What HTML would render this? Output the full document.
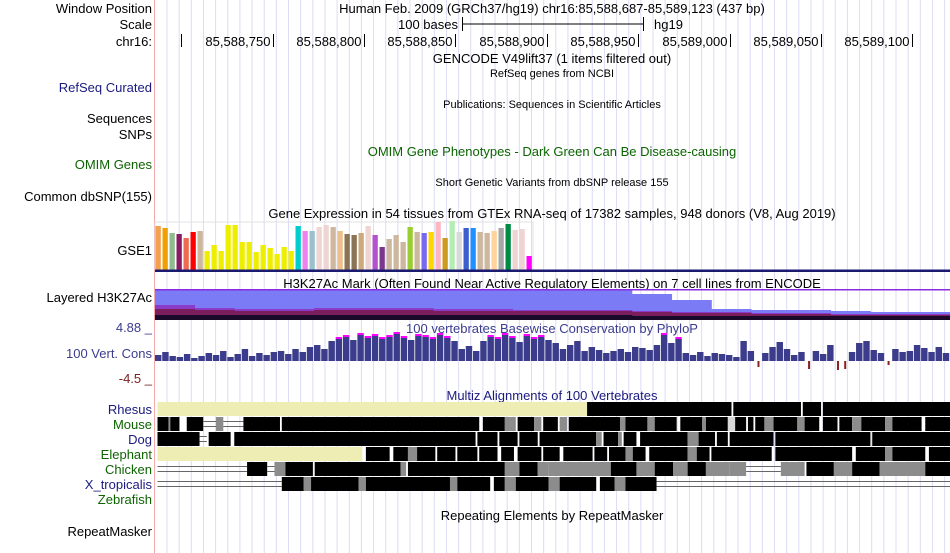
<!DOCTYPE html>
<html><head><meta charset="utf-8"><style>
html,body{margin:0;padding:0;background:#fff;}
svg{display:block;font-family:"Liberation Sans",sans-serif;}
</style></head><body>
<svg id="c" width="950" height="553" viewBox="0 0 950 553" xmlns="http://www.w3.org/2000/svg">
<g id="grid"></g>
<line x1="154.5" y1="0" x2="154.5" y2="553" stroke="#f4aaaa"/>
<g font-size="13" text-anchor="end" fill="#000">
<text x="152" y="13">Window Position</text>
<text x="152" y="29">Scale</text>
<text x="152" y="46">chr16:</text>
<text x="152" y="92" fill="#1a1a80">RefSeq Curated</text>
<text x="152" y="123">Sequences</text>
<text x="152" y="139">SNPs</text>
<text x="152" y="169" fill="#0c6400">OMIM Genes</text>
<text x="152" y="201">Common dbSNP(155)</text>
<text x="152" y="255">GSE1</text>
<text x="152" y="302">Layered H3K27Ac</text>
<text x="152" y="332" fill="#3c3c90">4.88 _</text>
<text x="152" y="358" fill="#3c3c90">100 Vert. Cons</text>
<text x="152" y="383" fill="#7a2020">-4.5 _</text>
<text x="152" y="414" fill="#1a1a80">Rhesus</text>
<text x="152" y="429" fill="#0c6400">Mouse</text>
<text x="152" y="444" fill="#1a1a80">Dog</text>
<text x="152" y="459" fill="#0c6400">Elephant</text>
<text x="152" y="474" fill="#0c6400">Chicken</text>
<text x="152" y="489" fill="#1a1a80">X_tropicalis</text>
<text x="152" y="504" fill="#0c6400">Zebrafish</text>
<text x="152" y="536">RepeatMasker</text>
</g>
<g font-size="13" text-anchor="middle">
<text x="552" y="13">Human Feb. 2009 (GRCh37/hg19)   chr16:85,588,687-85,589,123 (437 bp)</text>
<text x="458" y="29" text-anchor="end">100 bases</text>
<line x1="462" y1="24" x2="644" y2="24" stroke="#000"/>
<line x1="462.5" y1="17" x2="462.5" y2="31" stroke="#000"/><line x1="643.5" y1="17" x2="643.5" y2="31" stroke="#000"/>
<text x="654" y="29" text-anchor="start">hg19</text>
<text x="552" y="63">GENCODE V49lift37 (1 items filtered out)</text>
<text x="552" y="77" font-size="11">RefSeq genes from NCBI</text>
<text x="552" y="108" font-size="11">Publications: Sequences in Scientific Articles</text>
<text x="552" y="156" fill="#0c6400">OMIM Gene Phenotypes - Dark Green Can Be Disease-causing</text>
<text x="552" y="186" font-size="11">Short Genetic Variants from dbSNP release 155</text>
<text x="552" y="218">Gene Expression in 54 tissues from GTEx RNA-seq of 17382 samples, 948 donors (V8, Aug 2019)</text>
<text x="552" y="288">H3K27Ac Mark (Often Found Near Active Regulatory Elements) on 7 cell lines from ENCODE</text>
<text x="552" y="333" fill="#3c3c90">100 vertebrates Basewise Conservation by PhyloP</text>
<text x="552" y="400" fill="#1a1a80">Multiz Alignments of 100 Vertebrates</text>
<text x="552" y="520">Repeating Elements by RepeatMasker</text>
</g>
<g id="ticks"></g>
<rect x="155" y="222" width="378" height="48" fill="none" stroke="#e0e0e0"/>
<g id="gtex"></g>
<rect x="155" y="269.5" width="795" height="2.5" fill="#1a1a70"/>
<g id="h3k"></g>
<g id="cons"></g>
<g id="multiz"></g>
</svg>
<script>
// ---------- data ----------
const rulerTicks = [85588700,85588750,85588800,85588850,85588900,85588950,85589000,85589050,85589100];
const rulerStart = 85588687;
const gtexValues = [44,42,37,36,32,38,39,19,25,19,45,45,28,28,18,25,22,16,23,19,44,39,39,43,45,43,39,36,35,37,44,35,23,31,35,28,43,38,37,38,48,32,49,38,42,42,38,37,39,42,46,40,41,14];
const gtexColors = ["#f5a04f","#f0a000","#8fbc8f","#8b1c62","#ee6a50","#ff0000","#cdb79e","#eeee00","#eeee00","#eeee00","#eeee00","#eeee00","#eeee00","#eeee00","#eeee00","#eeee00","#eeee00","#eeee00","#eeee00","#eeee00","#00cdcd","#ee82ee","#9ac0cd","#eed5d2","#eed5d2","#cdb79e","#edbf8c","#8b7355","#8b7355","#cdaa7d","#eed5d2","#b452cd","#7a378b","#cdb79e","#cdb79e","#cdb79e","#9acd32","#cdb79e","#7a67ee","#ffd700","#ffb6c1","#cd9b1d","#b4eeb4","#d9d9d9","#3a5fcd","#1e90ff","#cdb79e","#cdb79e","#ffd39b","#a6a6a6","#008b45","#eed5d2","#eed5d2","#ff00ff"];
const h3kBlue   = [30,30,30,30,30,30,30,30,30,30,30,30,26,20,11,10,10,9,8,8];
const h3kPurple = [15,12,11,11,12,12,12,11,11,10,10,10,9,8,8,7,7,6,6,6];
const h3kMaroon = [11,10,9,9,10,10,10,9,9,9,9,9,8,7,7,6,6,5,5,5];
const h3kDark   = [5,5,5,5,5,5,5,5,5,5,5,5,4,4,4,4,4,4,4,4];
const consValues = [6,9,5,4,7,3,5, 8,6,10,4,7,12,5,8,6,9, 10,7,12,9, 14,16,12,20,
 22,24,21,26,23,25,22,24,27,23,21,25,24,22,26,23,20, 12,15,10,
 20,24,22,26,23,19,25,22,24,21,18, 12,16,20,10,14,11, 8,10,12,9,14,13,11,16,
 26,18,22,8, 6,9,5,8,7,6,4, 20,10,-6, 8,14,19,12,6,9,-8, 10,7,16,-9,-8,9,
 18,20,11,8,-4,12,9, 10,16,13,9,14,8];
const multizSpecies = ["Rhesus","Mouse","Dog","Elephant","Chicken","X_tropicalis","Zebrafish"];
const rhesusBlocks = [[0,235,"c"],[235,314,"b"],[315,352,"b"],[353,363,"b"],[364,437,"b"]];
const mouseBlocks = [[0,6,"b"],[6,7,"g"],[7,12,"b"],[16,25,"b"],[25,32,"n"],[32,36,"g"],[36,47,"n"],[47,67,"b"],[68,176,"b"],[178,190,"b"],[190,196,"g"],[197,206,"b"],[206,210,"g"],[211,219,"b"],[220,224,"g"],[225,253,"b"],[253,256,"g"],[256,268,"b"],[268,272,"g"],[272,284,"b"],[286,298,"b"],[298,300,"g"],[300,312,"b"],[312,316,"l"],[316,322,"b"],[323,326,"b"],[327,332,"b"],[332,337,"g"],[337,350,"b"],[350,354,"g"],[354,362,"b"],[364,372,"b"],[373,380,"b"],[380,385,"g"],[385,398,"b"],[398,402,"g"],[402,418,"b"],[420,437,"b"]];
const dogBlocks = [[0,23,"b"],[23,27,"n"],[28,40,"b"],[42,174,"b"],[175,186,"b"],[187,197,"b"],[198,208,"b"],[209,240,"b"],[240,243,"g"],[244,252,"b"],[252,254,"g"],[255,262,"b"],[264,290,"b"],[290,296,"g"],[296,305,"b"],[306,312,"b"],[313,337,"b"],[338,390,"b"],[391,437,"b"]];
const elephantBlocks = [[0,112,"c"],[114,127,"b"],[129,137,"b"],[137,142,"g"],[142,152,"b"],[153,163,"b"],[164,175,"b"],[176,186,"b"],[188,195,"b"],[197,210,"b"],[211,220,"b"],[222,238,"b"],[239,246,"b"],[247,256,"b"],[256,260,"g"],[260,267,"b"],[269,290,"b"],[290,295,"g"],[295,302,"b"],[303,336,"b"],[338,380,"b"],[382,398,"b"],[398,402,"g"],[402,420,"b"],[422,437,"b"]];
const chickenBlocks = [[0,49,"n"],[49,60,"b"],[60,64,"n"],[64,70,"g"],[70,85,"b"],[86,133,"b"],[133,136,"g"],[137,190,"b"],[190,198,"g"],[198,208,"b"],[208,214,"g"],[214,248,"g"],[248,262,"b"],[262,272,"g"],[272,282,"b"],[282,290,"g"],[290,300,"b"],[300,313,"g"],[313,322,"g"],[322,341,"n"],[341,354,"g"],[355,370,"b"],[370,380,"g"],[380,395,"b"],[395,420,"g"],[420,437,"b"]];
const xtropBlocks = [[0,68,"n"],[68,80,"b"],[80,84,"g"],[84,110,"b"],[110,114,"g"],[114,160,"b"],[160,164,"g"],[164,182,"b"],[184,190,"b"],[190,196,"g"],[196,214,"b"],[214,220,"g"],[220,240,"b"],[242,250,"b"],[250,256,"g"],[256,273,"b"],[273,437,"n"]];
const zebrafishBlocks = [];

// ---------- helpers ----------
const NS="http://www.w3.org/2000/svg";
function mk(tag,attrs,parent){const e=document.createElementNS(NS,tag);for(const k in attrs)e.setAttribute(k,attrs[k]);parent.appendChild(e);return e;}
const x0=157.5, bpW=1.828;
function xOf(bp){return x0+bp*bpW;}
function clampX(x){return Math.max(155,Math.min(950,x));}

const grid=document.getElementById('grid');
for(let gx=167;gx<950;gx+=12.15){
  const l=mk('line',{x1:gx,y1:0,x2:gx,y2:553,stroke:'#dcdcf4'},grid);
  
  
}

const tk=document.getElementById('ticks');
rulerTicks.forEach(t=>{
  const x=Math.round(xOf(t-rulerStart))+0.5;
  const l=mk('line',{x1:x,y1:34,x2:x,y2:47,stroke:'#000'},tk);
  
  
  if(t>rulerTicks[0]){
    const s=t.toLocaleString('en-US');
    const tx=mk('text',{x:x-3,y:46,'font-size':13,'text-anchor':'end'},tk);
    tx.textContent=s;
    
    
  }
});

const gt=document.getElementById('gtex');
const gBase=270;
gtexValues.forEach((v,i)=>{
  const r=mk('rect',{x:155.5+i*7,y:gBase-v,width:5.3,height:v,fill:gtexColors[i]},gt);
  
  
});

const hk=document.getElementById('h3k');
const hBase=320, binW=795/20;
function layer(arr,color,name){
  arr.forEach((v,i)=>{
    const r=mk('rect',{x:155+i*binW,y:hBase-v,width:binW+0.3,height:v,fill:color},hk);
    
    
  });
}
layer(h3kBlue,'#7b7bf6','h3k27ac-layer-blue');
layer(h3kPurple,'#8a3cc8','h3k27ac-layer-purple');
layer(h3kMaroon,'#7a1e5e','h3k27ac-layer-maroon');
layer(h3kDark,'#1a0a2a','h3k27ac-layer-dark');
mk('rect',{x:155,y:289,width:795,height:1.5,fill:'#8a2be2'},hk);

const cs=document.getElementById('cons');
const cBase=361, cW=795/consValues.length;
consValues.forEach((v,i)=>{
  const x=155+i*cW;
  if(v>=0){
    const r=mk('rect',{x:x,y:cBase-v,width:cW-0.8,height:v,fill:'#3c3c8c'},cs);
    
    
    if(v>=22){
      const p=mk('rect',{x:x,y:cBase-v-2,width:cW-0.8,height:2,fill:'#ff00ff'},cs);
      
      
    }
  } else {
    const r=mk('rect',{x:x+cW/2-1,y:cBase,width:2,height:-v,fill:'#8b2020'},cs);
    
    
  }
});

const mz=document.getElementById('multiz');
const rows=[rhesusBlocks,mouseBlocks,dogBlocks,elephantBlocks,chickenBlocks,xtropBlocks,zebrafishBlocks];
const fills={b:'#000',g:'#8c8c8c',l:'#d8d8d8',c:'#eeeeb4'};
rows.forEach((blocks,ri)=>{
  const y=402+ri*15;
  blocks.forEach(b=>{
    const xa=clampX(xOf(b[0])), xb=clampX(xOf(b[1]));
    if(b[2]==='n'){
      [y+4,y+9].forEach(ly=>{
        const l=mk('line',{x1:xa,y1:ly+0.5,x2:xb,y2:ly+0.5,stroke:'#666'},mz);
        
        
      });
    } else {
      const r=mk('rect',{x:xa,y:y,width:Math.max(0.5,xb-xa),height:14,fill:fills[b[2]]},mz);
      
      
    }
  });
});
</script>
</body></html>
